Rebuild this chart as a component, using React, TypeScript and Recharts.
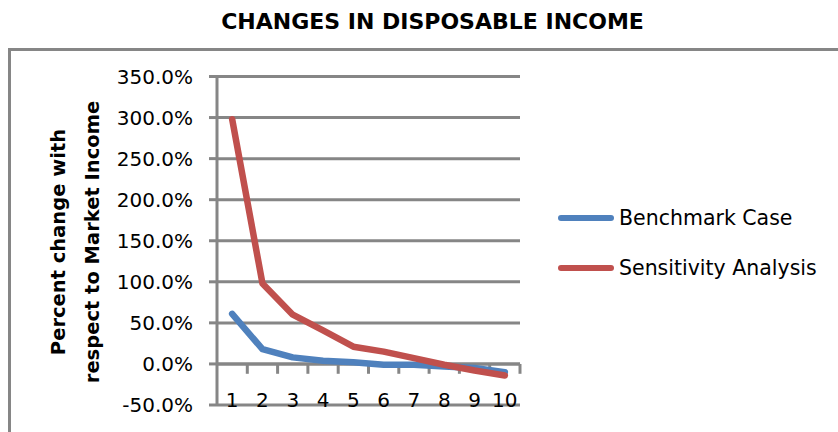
import React from 'react';
import { LineChart, Line, XAxis, YAxis, CartesianGrid, ReferenceLine } from 'recharts';

// Income deciles and percent change in disposable income relative to market income
const deciles = [1, 2, 3, 4, 5, 6, 7, 8, 9, 10];
const benchmarkCase = [61, 18, 8, 4, 2, -1, -1, -3, -5, -10];
const sensitivityAnalysis = [298, 98, 60, 41, 21, 15, 7, -1, -8, -14];
const yTicks = [-50, 0, 50, 100, 150, 200, 250, 300, 350];
const seriesNames = ['Benchmark Case', 'Sensitivity Analysis'];
const seriesKeys = ['benchmark', 'sensitivity'];
const seriesColors = ['#4F81BD', '#C0504D'];
const chartTitle = 'CHANGES IN DISPOSABLE INCOME';
const yLabelLines = ['Percent change with', 'respect to Market Income'];

const data = deciles.map((d, i) => ({
  decile: d,
  benchmark: benchmarkCase[i],
  sensitivity: sensitivityAnalysis[i],
}));

// category boundaries where the x-axis tick marks sit on the zero line
const boundaries = deciles.map((d) => d + 0.5);

const FONT = '"DejaVu Sans", sans-serif';
const GRID = '#868686';

const XTick = (props: any) => {
  const { x, y, payload } = props;
  return (
    <text x={x} y={y} dy={-5} textAnchor="middle" dominantBaseline="central" fontFamily={FONT} fontSize={20} fill="#000">
      {payload.value}
    </text>
  );
};

export default function App() {
  return (
    <div style={{ position: 'absolute', left: 0, top: 0, width: 838, height: 432, background: '#fff', overflow: 'hidden' }}>
      <div
        style={{
          position: 'absolute',
          left: 0,
          top: 7,
          width: 865,
          textAlign: 'center',
          fontFamily: FONT,
          fontWeight: 'bold',
          fontSize: 22,
          lineHeight: '30px',
          color: '#000',
        }}
      >
        {chartTitle}
      </div>
      <div
        style={{
          position: 'absolute',
          left: 8,
          top: 48,
          width: 840,
          height: 420,
          border: `3px solid ${GRID}`,
          boxSizing: 'border-box',
        }}
      />
      {yLabelLines.map((line, i) => (
        <div
          key={line}
          style={{
            position: 'absolute',
            left: (i === 0 ? 59 : 93) - 160,
            top: 242 - 14,
            width: 320,
            height: 28,
            lineHeight: '28px',
            textAlign: 'center',
            transform: 'rotate(-90deg)',
            transformOrigin: '50% 50%',
            fontFamily: FONT,
            fontWeight: 'bold',
            fontSize: 19.5,
            color: '#000',
            whiteSpace: 'nowrap',
          }}
        >
          {line}
        </div>
      ))}
      <div style={{ position: 'absolute', left: 0, top: 0 }}>
        <LineChart width={838} height={432} data={data} margin={{ top: 76.5, right: 318, bottom: 0, left: 117 }}>
          <CartesianGrid horizontal vertical={false} stroke={GRID} strokeWidth={3} />
          <XAxis
            dataKey="decile"
            type="number"
            domain={[0.5, 10.5]}
            ticks={deciles}
            axisLine={false}
            tickLine={false}
            tickSize={0}
            tickMargin={0}
            height={27}
            tick={<XTick />}
            interval={0}
          />
          <YAxis
            type="number"
            domain={[-50, 350]}
            ticks={yTicks}
            width={100}
            axisLine={{ stroke: GRID, strokeWidth: 3 }}
            tickLine={{ stroke: GRID, strokeWidth: 3 }}
            tickSize={8}
            tickMargin={16}
            tickFormatter={(v: number) => `${v.toFixed(1)}%`}
            tick={{ fill: '#000', fontFamily: FONT, fontSize: 20 }}
            interval={0}
          />
          <ReferenceLine y={0} stroke={GRID} strokeWidth={3} />
          {boundaries.map((b) => (
            <ReferenceLine
              key={b}
              segment={[
                { x: b, y: 0 },
                { x: b, y: -12 },
              ]}
              stroke={GRID}
              strokeWidth={3}
            />
          ))}
          {seriesKeys.map((k, i) => (
            <Line
              key={k}
              dataKey={k}
              name={seriesNames[i]}
              stroke={seriesColors[i]}
              strokeWidth={6.5}
              strokeLinecap="round"
              strokeLinejoin="round"
              dot={false}
              activeDot={false}
              isAnimationActive={false}
            />
          ))}
        </LineChart>
      </div>
      {seriesNames.map((name, i) => (
        <div
          key={name}
          style={{
            position: 'absolute',
            left: 558,
            top: (i === 0 ? 218 : 268) - 14,
            height: 28,
            display: 'flex',
            alignItems: 'center',
            fontFamily: FONT,
            fontSize: 20.5,
            color: '#000',
            whiteSpace: 'nowrap',
          }}
        >
          <span style={{ display: 'inline-block', width: 56, height: 6.5, borderRadius: 4, background: seriesColors[i], marginRight: 5 }} />
          {name}
        </div>
      ))}
    </div>
  );
}
